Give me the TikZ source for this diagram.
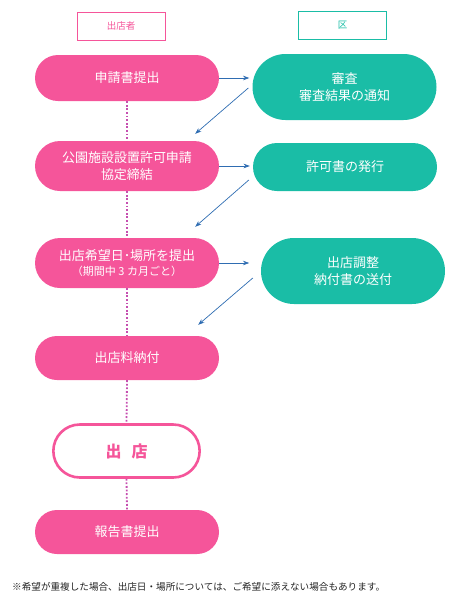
\documentclass[tikz,border=0pt]{standalone}
\usepackage{fontspec}
\usepackage{xcolor}
\usepackage{tikz}
\usetikzlibrary{arrows.meta,shapes.misc,calc}
\setmainfont{Noto Sans CJK JP}
\definecolor{shop}{HTML}{F5559A}
\definecolor{ward}{HTML}{1ABDA6}
\definecolor{link}{HTML}{2F6DB2}
\definecolor{dots}{HTML}{C64FB0}
\definecolor{note}{HTML}{222222}

\begin{document}
\begin{tikzpicture}[
  x=1pt,y=-1pt,
  h/.style={draw,line width=0.9pt,minimum width=88pt,minimum height=28pt,inner sep=0pt,
            font=\fontsize{9.5}{11}\selectfont},
  p/.style={rounded rectangle,fill=shop,text=white,minimum width=184pt,inner sep=0pt,align=center,
            font=\fontsize{13}{17}\selectfont},
  r/.style={p,fill=ward},
  a/.style={-{Stealth[length=2.2mm,width=1.6mm]},draw=link,line width=0.7pt},
  dl/.style={draw=dots,line width=1.8pt,dash pattern=on 1.8pt off 1.8pt}]
\useasboundingbox (0,0) rectangle (458,600);
\node[h,draw=shop,text=shop] (hs) at (121,26) {出店者};
\node[h,draw=ward,text=ward] (hw) at (342.5,25.5) {区};
\node[p,minimum height=46pt] (p1) at (127,78)  {申請書提出};
\node[r,minimum height=66pt] (r1) at (344.5,87) {審査\\審査結果の通知};
\node[p,minimum height=50pt] (p2) at (127,166) {公園施設設置許可申請\\協定締結};
\node[r,minimum height=48pt] (r2) at (345,167) {許可書の発行};
\node[p,minimum height=50pt] (p3) at (127,263) {出店希望日･場所を提出\\[-2pt]{\fontsize{11}{13}\selectfont（期間中 3 カ月ごと）}};
\node[r,minimum height=66pt] (r3) at (353,271) {出店調整\\納付書の送付};
\node[p,minimum height=44pt] (p4) at (127,358) {出店料納付};
\node[rounded rectangle,draw=shop,line width=2.6pt,fill=white,minimum width=153pt,minimum height=53pt,
      text=shop,font=\fontsize{16}{18}\selectfont\bfseries] (op) at (126.5,451) {出\hspace{10pt}店};
\node[p,minimum height=44pt] (p5) at (127,532) {報告書提出};
\node[anchor=west,text=note,inner sep=0pt,font=\fontsize{9.6}{11}\selectfont] (fn) at (12,587)
  {※希望が重複した場合、出店日・場所については、ご希望に添えない場合もあります。};
% dotted flow on the left
\draw[dl] (p1.south) -- (p2.north);
\draw[dl] (p2.south) -- (p3.north);
\draw[dl] (p3.south) -- (p4.north);
\draw[dl] (p4.south) -- (op.north);
\draw[dl] (op.south) -- (p5.north);
% hand-over arrows
\draw[a] (p1.east) -- ($(p1.east -| r1.west)+(-3,0)$);
\draw[a] ($(r1.west)+(-4,1)$) -- ($(p2.north -| p2.east)+(-24,-7)$);
\draw[a] (p2.east) -- ($(p2.east -| r2.west)+(-3,0)$);
\draw[a] ($(r2.west)+(-4,13)$) -- ($(p3.north -| p3.east)+(-24,-11)$);
\draw[a] (p3.east) -- ($(p3.east)+(30,0)$);
\draw[a] ($(r3.west)+(-8,7)$) -- ($(p4.north -| p4.east)+(-21,-11)$);
\end{tikzpicture}
\end{document}
